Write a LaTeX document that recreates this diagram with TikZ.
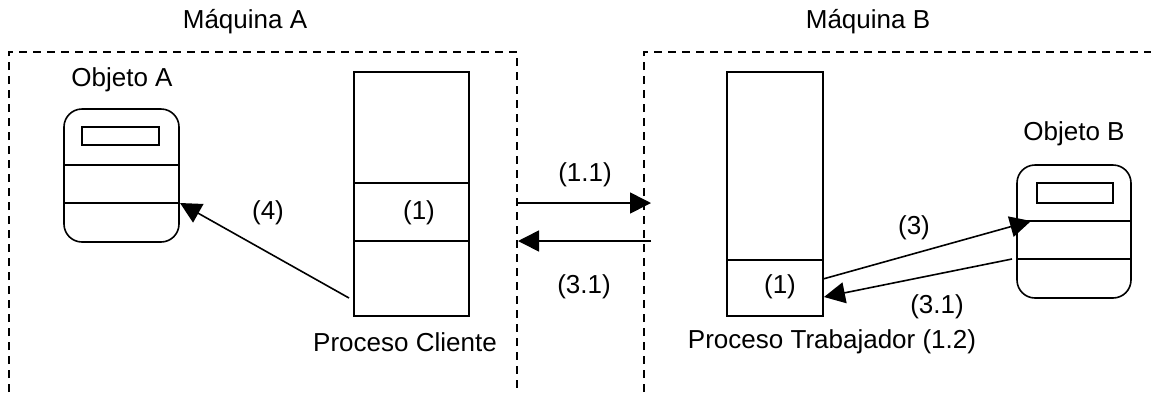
\documentclass[tikz,border=0pt]{standalone}
\usepackage{fontspec}
\setmainfont{Liberation Sans}
\usetikzlibrary{arrows.meta}
\begin{document}
\begin{tikzpicture}[x=1pt,y=-1pt,
  every node/.style={font=\fontsize{26}{30}\selectfont, inner sep=0pt},
  machine/.style={draw, line width=1.6pt, dash pattern=on 8pt off 6pt},
  box/.style={draw, line width=1.6pt, inner sep=0pt},
  sep/.style={line width=1.6pt},
  msg/.style={line width=1.6pt, -{Triangle[length=21pt,width=21pt]}},
  lbl/.style={anchor=center}]
\useasboundingbox (0,0) rectangle (1151,392);
% machines
\draw[machine] (9,392) -- (9,52) -- (517,52) -- (517,392);
\draw[machine] (644,392) -- (644,52) -- (1160,52);
\node[lbl] (mA) at (245,22) {Máquina A};
\node[lbl] (mB) at (868,22) {Máquina B};
% Objeto A
\node[lbl] (oAl) at (122,80) {Objeto A};
\node[box, rounded corners=18pt, minimum width=115pt, minimum height=133pt] (oA) at (121.5,175.5) {};
\node[box, minimum width=77pt, minimum height=18pt] (oAi) at (120.5,136) {};
\draw[sep] (64,165) -- (179,165);
\draw[sep] (64,203) -- (179,203);
% Proceso cliente
\node[box, minimum width=115pt, minimum height=244pt] (pc) at (411.5,194) {};
\draw[sep] (354,183) -- (469,183);
\draw[sep] (354,241) -- (469,241);
\node[lbl] (pc1) at (419,213) {(1)};
\node[lbl] (pcl) at (405,342) {Proceso Cliente};
% Proceso trabajador
\node[box, minimum width=96pt, minimum height=244pt] (pt) at (775,194) {};
\draw[sep] (727,260) -- (823,260);
\node[lbl] (pt1) at (780,287) {(1)};
\node[lbl] (ptl) at (832,342) {Proceso Trabajador (1.2)};
% Objeto B
\node[lbl] (oBl) at (1074,134) {Objeto B};
\node[box, rounded corners=18pt, minimum width=114pt, minimum height=133pt] (oB) at (1074,231.5) {};
\node[box, minimum width=76pt, minimum height=20pt] (oBi) at (1075,193) {};
\draw[sep] (1017,221) -- (1131,221);
\draw[sep] (1017,259) -- (1131,259);
% connector end points
\coordinate (a4s) at (349,298);
\coordinate (a4e) at (180,203);
\coordinate (a11s) at (518,203);
\coordinate (a11e) at (651,203);
\coordinate (a31s) at (651,241);
\coordinate (a31e) at (518,241);
\coordinate (a3s) at (823,279);
\coordinate (a3e) at (1031,221);
\coordinate (b31s) at (1012,259);
\coordinate (b31e) at (824,297);
% arrows
\draw[msg] (a4s) -- (a4e);
\draw[msg] (a11s) -- (a11e);
\draw[msg] (a31s) -- (a31e);
\draw[msg] (a3s) -- (a3e);
\draw[msg] (b31s) -- (b31e);
% labels
\node[lbl] (l4) at (268,213) {(4)};
\node[lbl] (l11) at (585,175) {(1.1)};
\node[lbl] (l31) at (584,287) {(3.1)};
\node[lbl] (l3) at (914,228) {(3)};
\node[lbl] (l31b) at (937,307) {(3.1)};
\end{tikzpicture}
\end{document}
